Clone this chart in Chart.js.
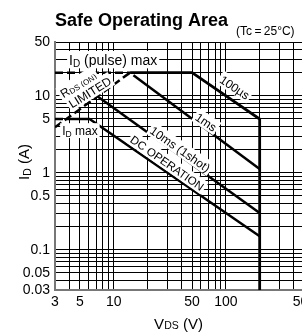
<!DOCTYPE html>
<html><head><meta charset="utf-8">
<script src="https://cdn.jsdelivr.net/npm/chart.js@4.4.1/dist/chart.umd.min.js"></script>
<style>
html,body{margin:0;padding:0;background:#fff;overflow:hidden}
#wrap{width:302px;height:336px;overflow:hidden;position:relative;background:#fff}
canvas{display:block}
</style></head>
<body><div id="wrap"><canvas id="c" width="320" height="336"></canvas></div>
<script>
// ---- tick values / labels ----
const xTickValues = [3,4,5,6,7,8,9,10,20,30,40,50,60,70,80,90,100,200,300,400,500];
const xTickLabels = [3,5,10,50,100,500];
const yTickValues = [0.03,0.04,0.05,0.06,0.07,0.08,0.09,0.1,0.2,0.3,0.4,0.5,0.6,0.7,0.8,0.9,1,2,3,4,5,6,7,8,9,10,20,30,40,50];
const yTickLabels = [0.03,0.05,0.1,0.5,1,5,10,50];

// ---- series (VDS in V, ID in A) ----
const rdsLimitV = [3, 14];        const rdsLimitI = [3.9, 20];
const pulseDashV = [3, 14];       const pulseDashI = [20, 20];
const us100V = [14, 50, 200, 200]; const us100I = [20, 20, 5, 0.03];
const ms1V = [15, 200];           const ms1I = [18.5, 1.12];
const ms10V = [7.2, 200];         const ms10I = [9.8, 0.30];
const idMaxDashV = [3, 3.8];      const idMaxDashI = [5, 5];
const dcV = [3.8, 6.1, 200];      const dcI = [5, 5, 0.15];

const FAM = '"Liberation Sans", Arial, Helvetica, sans-serif';

function pts(vs, is){ return vs.map((v,k)=>({x:v, y:is[k]})); }

// annotation labels: anchor in data units
const notes = [
  {parts:[['I',14],['D',10,1.5],[' (pulse) max',14]], v:9.9, i:29, angle:0, size:14},
  {parts:[['I',12],['D',8.5,1.2],[' max',12]], v:5.0, i:3.48, angle:0, size:12},
  {parts:[['R',12],['DS (ON)',8,1]], v:4.8, i:14.2, angle:-32, size:12},
  {parts:[['LIMITED',12]], v:6.14, i:11.1, angle:-32, size:12},
  {parts:[['100\u00b5s',12]], v:120, i:12.9, angle:34, size:12},
  {parts:[['1ms',12]], v:66.5, i:4.55, angle:34, size:12},
  {parts:[['10ms (1shot)',12]], v:39.2, i:2.03, angle:35, size:12},
  {parts:[['DC OPERATION',11.5]], v:30, i:1.34, angle:35, size:11.5}
];

function fontOf(p, bold){ return (bold?'bold ':'') + p[1] + 'px ' + FAM; }
function richWidth(ctx, parts, bold){
  let w = 0;
  for (const p of parts){ ctx.font = fontOf(p, bold); w += ctx.measureText(p[0]).width; }
  return w;
}
function drawParts(ctx, parts, bold){
  const w = richWidth(ctx, parts, bold);
  let x = -w/2;
  ctx.textAlign = 'left'; ctx.textBaseline = 'alphabetic';
  for (const p of parts){
    ctx.font = fontOf(p, bold);
    ctx.fillText(p[0], x, p[2] || 0);
    x += ctx.measureText(p[0]).width;
  }
  return w;
}

const notePlugin = {
  id: 'notes',
  afterDatasetsDraw(chart){
    const ctx = chart.ctx, xs = chart.scales.x, ys = chart.scales.y;
    ctx.save();
    const ca = chart.chartArea;
    ctx.beginPath(); ctx.rect(ca.left, ca.top, ca.right-ca.left, ca.bottom-ca.top); ctx.clip();
    for (const n of notes){
      const cx = xs.getPixelForValue(n.v), cy = ys.getPixelForValue(n.i);
      ctx.save();
      ctx.translate(cx, cy);
      ctx.rotate(n.angle*Math.PI/180);
      const w = richWidth(ctx, n.parts, false);
      const s = n.size;
      ctx.fillStyle = '#fff';
      ctx.fillRect(-w/2-2, -0.66*s, w+4, 1.24*s);
      ctx.fillStyle = '#000';
      ctx.translate(0, 0.36*s);
      drawParts(ctx, n.parts, false);
      ctx.restore();
    }
    ctx.restore();
  },
  afterDraw(chart){
    const ctx = chart.ctx;
    ctx.save();
    ctx.fillStyle = '#000';
    ctx.textBaseline = 'alphabetic'; ctx.textAlign = 'left';
    ctx.font = 'bold 18px ' + FAM;
    ctx.fillText('Safe Operating Area', 55, 26);
    ctx.font = '12px ' + FAM;
    ctx.fillText('(Tc\u2009=\u200925\u00b0C)', 236, 35);
    ctx.save();
    ctx.translate(29, 162);
    ctx.rotate(-Math.PI/2);
    drawParts(ctx, [['I',15],['D',10.5,1.5],[' (A)',15]], false);
    ctx.restore();
    ctx.save();
    ctx.translate(178.5, 329);
    drawParts(ctx, [['V',15],['DS',10.5,0],[' (V)',15]], false);
    ctx.restore();
    ctx.restore();
  }
};

const base = {showLine:true, pointRadius:0, borderColor:'#000', fill:false, tension:0, borderCapStyle:'butt', borderJoinStyle:'miter'};

new Chart(document.getElementById('c'), {
  type: 'scatter',
  data: {
    datasets: [
      Object.assign({data: pts(rdsLimitV, rdsLimitI), borderWidth:2.5, borderDash:[8,4]}, base),
      Object.assign({data: pts(pulseDashV, pulseDashI), borderWidth:2.5, borderDash:[8,4]}, base),
      Object.assign({data: pts(idMaxDashV, idMaxDashI), borderWidth:2.5, borderDash:[8,4]}, base),
      Object.assign({data: pts(us100V, us100I), borderWidth:2.8}, base),
      Object.assign({data: pts(ms1V, ms1I), borderWidth:2.5}, base),
      Object.assign({data: pts(ms10V, ms10I), borderWidth:2.5}, base),
      Object.assign({data: pts(dcV, dcI), borderWidth:2.5}, base)
    ]
  },
  options: {
    responsive: false,
    devicePixelRatio: 1,
    animation: false,
    layout: {padding: {top:42, right:14, left:0, bottom:0}},
    plugins: {legend:{display:false}, tooltip:{enabled:false}, title:{display:false}},
    scales: {
      x: {
        type:'logarithmic', min:3, max:500,
        afterBuildTicks: s => { s.ticks = xTickValues.map(v => ({value:v})); },
        afterFit: s => { s.height = 46; },
        grid: {color:'#000', lineWidth:1, drawTicks:false},
        border: {color:'#777', width:2},
        ticks: {autoSkip:false, maxRotation:0, minRotation:0, padding:4, color:'#000',
          font:{family:FAM, size:14},
          callback: v => xTickLabels.includes(v) ? String(v) : ''}
      },
      y: {
        type:'logarithmic', min:0.03, max:50,
        afterBuildTicks: s => { s.ticks = yTickValues.map(v => ({value:v})); },
        afterFit: s => { s.width = 55; },
        grid: {color:'#000', lineWidth:1, drawTicks:false},
        border: {color:'#777', width:2},
        ticks: {autoSkip:false, padding:5, color:'#000',
          font:{family:FAM, size:14},
          callback: v => yTickLabels.includes(v) ? String(v) : ''}
      }
    }
  },
  plugins: [notePlugin]
});
</script>
</body></html>
